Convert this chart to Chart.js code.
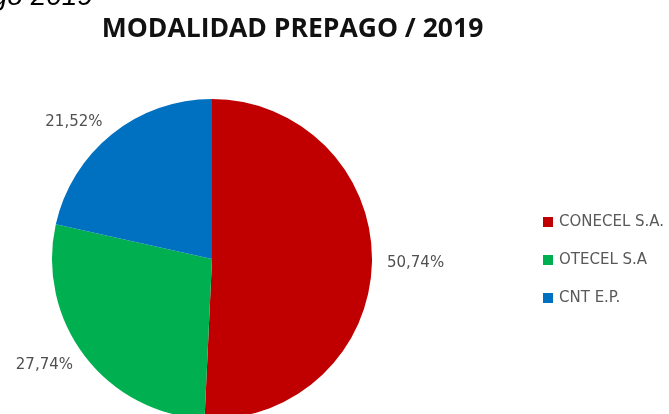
<!DOCTYPE html>
<html>
<head>
<meta charset="utf-8">
<script src="https://cdn.jsdelivr.net/npm/chart.js@4.4.0/dist/chart.umd.min.js"></script>
<style>
    html, body { margin: 0; padding: 0; background: #ffffff; }
    body { width: 669px; height: 414px; overflow: hidden; }
    #wrap { width: 669px; height: 440px; }
</style>
</head>
<body>
<div id="wrap"><canvas id="prepagoChart" width="669" height="440"></canvas></div>
<script>
const operadores = ['CONECEL S.A.', 'OTECEL S.A', 'CNT E.P.'];
const porcentajes = [50.74, 27.74, 21.52];
const colores = ['#C00000', '#00B050', '#0070C0'];
const titulo = 'MODALIDAD PREPAGO / 2019';
const encabezado = 'go 2019';

function formatPct(v) {
    return v.toFixed(2).replace('.', ',') + '%';
}

const textPlugin = {
    id: 'textPlugin',
    afterDraw(chart) {
        const ctx = chart.ctx;
        ctx.save();

        // clipped caption from the page above
        ctx.fillStyle = '#000000';
        ctx.font = 'italic 28px "Liberation Sans"';
        ctx.textAlign = 'right';
        ctx.textBaseline = 'alphabetic';
        ctx.fillText(encabezado, 93, 5);

        // title
        ctx.font = 'bold 26.5px "Open Sans"';
        ctx.textAlign = 'center';
        ctx.fillStyle = '#111111';
        ctx.fillText(titulo, 292.5, 37);

        // percentage labels outside each slice
        const meta = chart.getDatasetMeta(0);
        ctx.font = '15px "DejaVu Sans"';
        ctx.fillStyle = '#505050';
        ctx.textBaseline = 'middle';
        meta.data.forEach((arc, i) => {
            const mid = (arc.startAngle + arc.endAngle) / 2;
            const r = arc.outerRadius + 15;
            const x = arc.x + Math.cos(mid) * r;
            const y = arc.y + Math.sin(mid) * r;
            ctx.textAlign = Math.cos(mid) >= 0 ? 'left' : 'right';
            ctx.fillText(formatPct(porcentajes[i]), x, y);
        });

        // legend
        ctx.textAlign = 'left';
        operadores.forEach((name, i) => {
            const y = 222 + i * 38;
            ctx.fillStyle = colores[i];
            ctx.fillRect(543, y - 5, 10, 10);
            ctx.fillStyle = '#595959';
            ctx.fillText(name, 559, y);
        });

        ctx.restore();
    }
};

new Chart(document.getElementById('prepagoChart').getContext('2d'), {
    type: 'pie',
    data: {
        labels: operadores,
        datasets: [{
            data: porcentajes,
            backgroundColor: colores,
            borderWidth: 0
        }]
    },
    options: {
        responsive: false,
        animation: false,
        layout: {
            padding: { left: 52, top: 99, right: 297, bottom: 21 }
        },
        plugins: {
            legend: { display: false },
            tooltip: { enabled: false },
            title: { display: false }
        }
    },
    plugins: [textPlugin]
});
</script>
</body>
</html>
